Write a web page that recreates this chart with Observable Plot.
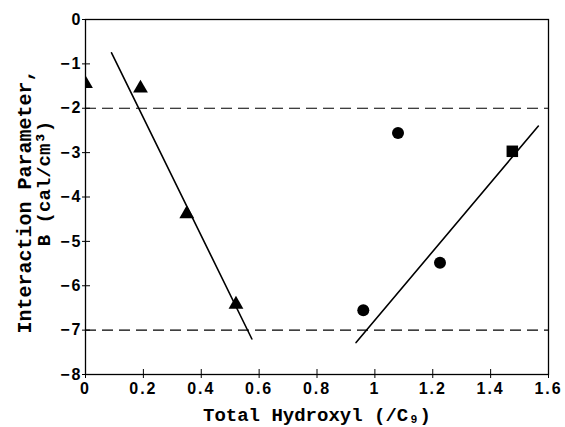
<!DOCTYPE html>
<html>
<head>
<meta charset="utf-8">
<script src="https://cdn.jsdelivr.net/npm/d3@7"></script>
<script src="https://cdn.jsdelivr.net/npm/@observablehq/plot@0.6"></script>
<style>
  html, body { margin: 0; padding: 0; background: #fff; }
  #chart { width: 565px; height: 427px; }
</style>
</head>
<body>
<div id="chart"></div>
<script>
// Data
const triX = [0, 0.19, 0.35, 0.52];
const triY = [-1.45, -1.55, -4.38, -6.42];
const circX = [0.96, 1.08, 1.225];
const circY = [-6.55, -2.56, -5.48];
const sqX = [1.475];
const sqY = [-2.97];
const fit1X = [0.09, 0.575];
const fit1Y = [-0.75, -7.2];
const fit2X = [0.935, 1.565];
const fit2Y = [-7.28, -2.4];
const dashedY = [-2, -7];
const xTicks = [0, 0.2, 0.4, 0.6, 0.8, 1, 1.2, 1.4, 1.6];
const yTicks = [0, -1, -2, -3, -4, -5, -6, -7, -8];
const xLabel = "Total Hydroxyl (/C\u2089)";
const yLabel1 = "Interaction Parameter,";
const yLabel2 = "B (cal/cm\u00B3)";

const tri = triX.map((x, i) => ({x, y: triY[i]}));
const circ = circX.map((x, i) => ({x, y: circY[i]}));
const sq = sqX.map((x, i) => ({x, y: sqY[i]}));
const fit1 = fit1X.map((x, i) => ({x, y: fit1Y[i]}));
const fit2 = fit2X.map((x, i) => ({x, y: fit2Y[i]}));

const labelFont = "'Liberation Mono', 'DejaVu Sans Mono', monospace";
const tickFont = "'Liberation Sans', Arial, sans-serif";

const plot = Plot.plot({
  width: 565,
  height: 427,
  marginLeft: 85,
  marginRight: 17,
  marginTop: 19,
  marginBottom: 53,
  style: {background: "#fff", color: "#000", fontFamily: tickFont},
  x: {domain: [0, 1.6]},
  y: {domain: [-8, 0]},
  marks: [
    Plot.frame({stroke: "#000", strokeWidth: 1.3}),
    Plot.ruleY(dashedY, {stroke: "#000", strokeWidth: 1.2, strokeDasharray: "11,6"}),
    Plot.axisX({ticks: xTicks, tickSize: 4, tickPadding: 4, tickFormat: d => String(+d.toFixed(1)), label: null}),
    Plot.axisX({ticks: xTicks, tickSize: -5, tickFormat: () => "", label: null}),
    Plot.axisY({ticks: yTicks, tickSize: 3, tickPadding: 0, tickFormat: d => d < 0 ? "\u2212" + Math.abs(d) : String(d), label: null}),
    Plot.axisY({ticks: yTicks, tickSize: -5, tickFormat: () => "", label: null}),
    Plot.line(fit1, {x: "x", y: "y", stroke: "#000", strokeWidth: 1.6}),
    Plot.line(fit2, {x: "x", y: "y", stroke: "#000", strokeWidth: 1.6}),
    Plot.dot(tri, {x: "x", y: "y", symbol: "triangle", r: 5.5, fill: "#000", stroke: "none", clip: true}),
    Plot.dot(circ, {x: "x", y: "y", symbol: "circle", r: 6, fill: "#000", stroke: "none"}),
    Plot.dot(sq, {x: "x", y: "y", symbol: "square", r: 6.5, fill: "#000", stroke: "none"}),
    Plot.text([xLabel], {frameAnchor: "bottom", dy: 46, text: d => d, fontFamily: labelFont, fontWeight: "bold", fontSize: 19, fill: "#000", lineAnchor: "bottom"}),
    Plot.text([yLabel1], {frameAnchor: "left", dx: -61, dy: 4.5, rotate: -90, text: d => d, fontFamily: labelFont, fontWeight: "bold", fontSize: 20, fill: "#000", textAnchor: "middle", lineAnchor: "middle"}),
    Plot.text([yLabel2], {frameAnchor: "left", dx: -42, dy: -13.5, rotate: -90, text: d => d, fontFamily: labelFont, fontWeight: "bold", fontSize: 19, fill: "#000", textAnchor: "middle", lineAnchor: "middle"})
  ]
});
// Numeric tick labels: bold, slightly spaced like the reference
d3.select(plot).selectAll("text").each(function() {
  if (/^[\u2212\-]?[\d.]+$/.test(this.textContent.trim())) {
    d3.select(this)
      .style("font-size", "16px").style("font-weight", "bold")
      .style("font-family", tickFont).style("letter-spacing", "2px");
  }
});
document.getElementById("chart").appendChild(plot);
</script>
</body>
</html>
